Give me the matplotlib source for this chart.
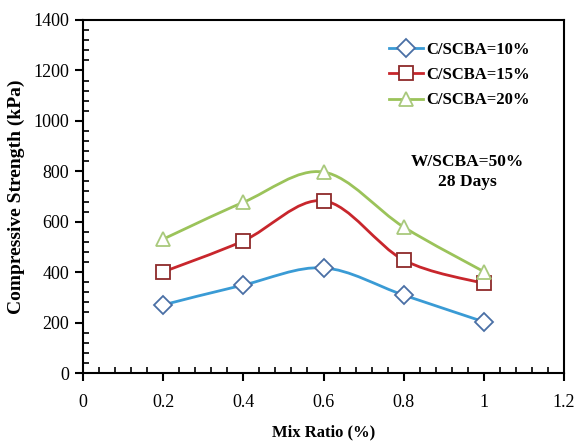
import numpy as np
import matplotlib
matplotlib.use("Agg")
import matplotlib.pyplot as plt
import matplotlib.patches as pat
from matplotlib.path import Path
from matplotlib.ticker import MultipleLocator

plt.rcParams['font.family'] = ['Liberation Serif', 'DejaVu Serif']

mix_ratio = [0.2, 0.4, 0.6, 0.8, 1.0]
cs_10 = [270, 349, 417, 309, 203]
cs_15 = [401, 524, 683, 448, 355]
cs_20 = [531, 677, 797, 579, 402]
labels = ["C/SCBA=10%", "C/SCBA=15%", "C/SCBA=20%"]


def smooth_path(x, y, ax):
    # excel-like smoothed line: cubic bezier through the points
    pts = ax.transData.transform(np.column_stack([x, y]))
    n = len(pts)
    verts = [pts[0]]
    codes = [Path.MOVETO]
    for i in range(n - 1):
        p0 = pts[i - 1] if i > 0 else pts[i]
        p1 = pts[i]
        p2 = pts[i + 1]
        p3 = pts[i + 2] if i + 2 < n else pts[i + 1]
        c1 = p1 + (p2 - p0) / 6.0
        c2 = p2 - (p3 - p1) / 6.0
        verts += [c1, c2, p2]
        codes += [Path.CURVE4] * 3
    verts = ax.transData.inverted().transform(np.array(verts))
    return Path(verts, codes)


fig = plt.figure(figsize=(5.85, 4.43), dpi=100)
ax = fig.add_axes([83 / 585, 1 - 373 / 443, (564 - 83) / 585, (373 - 20) / 443])
ax.set_xlim(0, 1.2)
ax.set_ylim(0, 1400)

series = [
    (cs_10, "#3A9BD5", "#4A6FA5", "D", 9),
    (cs_15, "#C8262C", "#8E2A2A", "s", 10),
    (cs_20, "#9BC35A", "#A9C97C", "^", 10),
]

for (vals, lc, mc, mk, ms), lab in zip(series, labels):
    p = smooth_path(mix_ratio, vals, ax)
    ax.add_patch(pat.PathPatch(p, fill=False, edgecolor=lc, lw=2, zorder=2))
    ax.plot([], [], color=lc, lw=2, marker=mk, ms=ms, mfc="white", mec=mc,
            mew=1.3, label=lab)
    ax.plot(mix_ratio, vals, ls="none", marker=mk, ms=ms, mfc="white",
            mec=mc, mew=1.3, zorder=3)

ax.xaxis.set_minor_locator(MultipleLocator(0.04))
ax.yaxis.set_major_locator(MultipleLocator(200))
ax.yaxis.set_minor_locator(MultipleLocator(40))
ax.set_xticks([0, 0.2, 0.4, 0.6, 0.8, 1.0, 1.2])
ax.set_xticklabels(["0", "0.2", "0.4", "0.6", "0.8", "1", "1.2"])
ax.tick_params(which="major", direction="out", length=6, width=1.5,
               labelsize=13)
ax.tick_params(axis="y", which="major", pad=4)
ax.tick_params(axis="x", which="major", pad=9)
ax.tick_params(which="minor", direction="in", length=4, width=1.2)
for s in ax.spines.values():
    s.set_linewidth(1.5)

ax.set_xlabel("Mix Ratio (%)", fontsize=12, fontweight="bold", labelpad=10)
ax.set_ylabel("Compressive Strength (kPa)", fontsize=14, fontweight="bold",
              labelpad=6)

ax.legend(loc="upper right", bbox_to_anchor=(0.96, 0.98), frameon=False,
          prop={"weight": "bold", "size": 12}, handlelength=2.0,
          handletextpad=0.2, labelspacing=0.55)

ax.text(0.80, 0.57, "W/SCBA=50%\n28 Days", transform=ax.transAxes,
        ha="center", va="center", fontsize=12.5, fontweight="bold",
        linespacing=1.35)

fig.savefig("out.png", dpi=100)
